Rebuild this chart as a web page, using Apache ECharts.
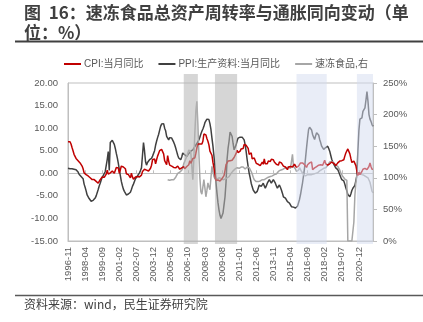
<!DOCTYPE html>
<html><head><meta charset="utf-8">
<script src="https://cdn.jsdelivr.net/npm/echarts@6/dist/echarts.min.js"></script>
<style>html,body{margin:0;padding:0;background:#fff}#c{width:423px;height:322px}</style>
</head><body><div id="c"></div>
<script>
// ---- categories (monthly, 1996-11 .. 2022-02) ----
const startYear = 1996, startMonth = 11, monthCount = 304;
const categories = [];
for (let k = 0; k < monthCount; k++) {
  const m = startMonth - 1 + k;
  const y = startYear + Math.floor(m / 12);
  const mm = m % 12 + 1;
  categories.push(y + '-' + (mm < 10 ? '0' : '') + mm);
}

// ---- CPI: 当月同比 (%) ----
const cpi = [
  7.0, 7.2,
  7.0, 6.5, 5.7, 5.0, 4.2, 3.8, 3.3, 3.1, 2.8, 2.5, 2.3, 2.0,
  1.6, 1.0, 0.1, 0.3, -0.3, -0.5, -0.6, -0.9, -1.0, -1.2, -1.4, -1.3,
  -1.4, -1.7, -1.8, -2.1, -2.2, -2.1, -1.4, -1.3, -0.8, -0.6, -0.9, -1.0,
  -0.2, 0.7, -0.2, -0.3, 0.1, 0.5, 0.5, 0.3, 0.0, 0.0, 1.3, 1.5,
  1.2, 0.0, 0.8, 1.6, 1.7, 1.4, 1.5, 1.0, -0.1, 0.2, -0.3, -0.3,
  -1.0, 0.0, -0.8, -1.3, -1.1, -0.8, -0.9, -0.7, -0.7, -0.8, -0.7, -0.4,
  0.4, 0.2, 0.9, 1.0, 0.7, 0.3, 0.5, 0.9, 1.1, 1.8, 3.0, 3.2,
  3.2, 2.1, 3.0, 3.8, 4.4, 5.0, 5.3, 5.3, 5.2, 4.3, 2.8, 2.4,
  1.9, 3.9, 2.7, 1.8, 1.8, 1.6, 1.8, 1.3, 0.9, 1.2, 1.3, 1.6,
  1.9, 0.9, 0.8, 1.2, 1.4, 1.5, 1.0, 1.3, 1.5, 1.4, 1.9, 2.8,
  2.2, 2.7, 3.3, 3.0, 3.4, 4.4, 5.6, 6.5, 6.2, 6.5, 6.9, 6.5,
  7.1, 8.7, 8.3, 8.5, 7.7, 7.1, 6.3, 4.9, 4.6, 4.0, 2.4, 1.2,
  1.0, -1.6, -1.2, -1.5, -1.4, -1.7, -1.8, -1.2, -0.8, -0.5, 0.6, 1.9,
  1.5, 2.7, 2.4, 2.8, 3.1, 2.9, 3.3, 3.5, 3.6, 4.4, 5.1, 4.6,
  4.9, 4.9, 5.4, 5.3, 5.5, 6.4, 6.5, 6.2, 6.1, 5.5, 4.2, 4.1,
  4.5, 3.2, 3.6, 3.4, 3.0, 2.2, 1.8, 2.0, 1.9, 1.7, 2.0, 2.5,
  2.0, 3.2, 2.1, 2.4, 2.1, 2.7, 2.7, 2.6, 3.1, 3.2, 3.0, 2.5,
  2.5, 2.0, 2.4, 1.8, 2.5, 2.3, 2.3, 2.0, 1.6, 1.6, 1.4, 1.5,
  0.8, 1.4, 1.4, 1.5, 1.2, 1.4, 1.6, 2.0, 1.6, 1.3, 1.5, 1.6,
  1.8, 2.3, 2.3, 2.3, 2.0, 1.9, 1.8, 1.3, 1.9, 2.1, 2.3, 2.1,
  2.5, 0.8, 0.9, 1.2, 1.5, 1.5, 1.4, 1.8, 1.6, 1.9, 1.7, 1.8,
  1.5, 2.9, 2.1, 1.8, 1.8, 1.9, 2.1, 2.3, 2.5, 2.5, 2.2, 1.9,
  1.7, 1.5, 2.3, 2.5, 2.7, 2.7, 2.8, 2.8, 3.0, 3.8, 4.5, 4.5,
  5.4, 5.2, 4.3, 3.3, 2.4, 2.5, 2.7, 2.4, 1.7, 0.5, -0.5, 0.2,
  -0.3, -0.2, 0.4, 0.9, 1.3, 1.1, 1.0, 0.8, 0.7, 1.5, 2.3, 1.5,
  0.9, 0.9
];

// ---- PPI: 生产资料: 当月同比 (%) ----
const ppi = [
  1.1, 1.0,
  1.0, 0.9, 1.0, 0.8, 0.9, 0.7, 0.8, 0.6, 0.3, -0.2, -0.6, -0.7,
  -0.8, -1.2, -2.4, -3.1, -3.9, -4.8, -5.2, -5.6, -5.9, -6.2, -6.1, -6.0,
  -5.9, -5.5, -5.0, -4.6, -3.6, -2.8, -2.2, -1.5, -0.9, -0.5, -0.1, 0.4,
  0.8, 3.1, 4.8, 0.6, 6.8, 7.2, 7.3, 7.0, 6.4, 5.5, 4.4, 3.4,
  2.2, 0.8, -0.5, -1.8, -2.7, -3.5, -4.0, -4.4, -4.8, -4.9, -4.6, -4.4,
  -4.2, -3.6, -2.9, -2.4, -1.8, -1.2, -1.0, -0.6, -0.2, 0.1, 0.6, 1.2,
  4.0, 6.8, 5.0, 2.6, 1.8, 2.4, 2.8, 3.0, 2.9, 3.3, 3.8, 4.1,
  5.0, 6.2, 7.1, 7.9, 8.6, 9.5, 10.4, 10.9, 11.2, 11.0, 10.0, 9.4,
  8.2, 7.8, 7.4, 7.9, 8.2, 7.8, 7.4, 6.9, 6.3, 5.6, 4.8, 4.0,
  3.4, 3.1, 3.0, 3.6, 4.5, 4.7, 4.1, 3.9, 3.7, 3.9, 4.4, 4.8,
  4.9, 5.0, 5.2, 5.6, 5.9, 6.3, 6.6, 7.0, 7.4, 8.0, 8.7, 9.3,
  9.8, 10.4, 11.2, 11.6, 12.0, 12.1, 11.9, 11.0, 9.7, 7.8, 6.0, 3.8,
  1.5, -2.0, -4.4, -6.5, -8.1, -9.3, -10.0, -9.6, -8.8, -7.0, -5.2, -2.0,
  3.0, 5.5, 7.1, 9.1, 8.7, 8.2, 6.6, 5.2, 5.6, 6.3, 7.2, 7.8,
  8.2, 8.0, 7.8, 8.0, 8.2, 7.4, 6.3, 4.8, 3.0, 1.4, 0.0, -1.0,
  -2.2, -3.0, -3.7, -4.1, -4.4, -4.2, -4.0, -3.3, -2.6, -2.7, -2.9, -2.6,
  -2.2, -2.8, -3.3, -2.8, -2.2, -1.8, -1.4, -1.8, -2.2, -1.8, -1.4, -1.8,
  -2.2, -2.8, -3.3, -2.9, -2.6, -3.1, -3.7, -4.4, -5.2, -5.4, -5.5, -5.9,
  -6.3, -6.5, -6.6, -7.0, -7.4, -7.5, -7.5, -7.6, -7.7, -7.6, -7.3, -6.9,
  -5.8, -4.7, -3.4, -2.1, -0.5, 1.2, 3.4, 5.7, 7.8, 9.7, 10.2, 10.5,
  9.6, 8.6, 8.0, 7.5, 8.3, 9.0, 9.4, 8.5, 7.5, 6.8, 6.0, 5.6,
  5.3, 5.5, 5.7, 5.9, 6.0, 5.5, 4.9, 4.0, 3.1, 2.5, 2.0, 1.6,
  1.2, 1.0, 0.8, 0.3, -0.3, -0.9, -1.4, -1.5, -1.7, -2.4, -3.2, -3.9,
  -4.7, -5.0, -5.2, -4.6, -3.8, -3.3, -2.9, -2.7, -2.6, -0.5, 5.0, 9.5,
  12.0, 11.6, 12.3, 13.7, 13.3, 14.5, 16.2, 18.1, 16.0, 13.0, 12.0, 11.5,
  10.8, 10.4
];

// ---- 速冻食品 (right axis, %), starts 2005-02 ----
const frozenStart = '2005-02';
const frozen = [
  97, 97, 96, 97, 97, 98, 97, 98, 101, 104, 107,
  108, 109, 110, 112, 116, 122, 126, 130, 134, 139, 144, 147,
  140, 118, 97, 130, 170, 205, 221, 185, 140, 100, 78, 74,
  72, 97, 84, 70, 80, 92, 86, 81, 100, 118, 110, 102,
  98, 97, 98, 99, 100, 100, 99, 98, 97, 97, 98, 100,
  100, 101, 102, 104, 107, 109, 111, 113, 114, 115, 116, 115,
  115, 116, 117, 118, 117, 115, 114, 115, 117, 118, 116, 113,
  110, 106, 101, 97, 94, 94, 93, 94, 94, 95, 96, 97,
  97, 97, 98, 99, 100, 101, 101, 102, 102, 103, 104, 105,
  105, 106, 108, 110, 111, 112, 113, 113, 114, 115, 116, 116,
  116, 117, 116, 115, 116, 137, 118, 116, 114, 110, 108, 112,
  116, 113, 110, 107, 105, 104, 103, 104, 105, 104, 105, 106,
  105, 104, 106, 105, 107, 106, 108, 110, 111, 113, 113, 114,
  115, 116, 116, 118, 120, 122, 125, 128, 126, 125, 124, 122,
  120, 119, 118, 116, 112, 108, 105, 102, 100, 98, 97, 96,
  0, 0, 0, 0, 0, 0, 30, 72, 92, 104, 108, 110,
  108, 106, 105, 104, 104, 103, 102, 102, 100, 97, 93, 86,
  79, 76
];

// ---- shaded periods ----
const grayBands = [['2006-06', '2007-08'], ['2009-01', '2010-11']];
const blueBands = [['2015-10', '2018-04'], ['2020-10', '2022-02']];

const seriesNames = ['CPI:当月同比', 'PPI:生产资料:当月同比', '速冻食品,右'];
const leftTicks = { min: -15, max: 20, interval: 5 };
const rightTicks = { min: 0, max: 250, interval: 50 };

const frozenOffset = categories.indexOf(frozenStart);
const frozenData = frozen.map((v, k) => [categories[frozenOffset + k], v]);

const txt = '#595959';
const axisCol = '#bfbfbf';
const numFont = "'Liberation Sans','Noto Sans CJK SC',sans-serif";

const bandData = [];
grayBands.forEach(b => bandData.push([{ xAxis: b[0], itemStyle: { color: '#b4b4b4', opacity: 0.55 } }, { xAxis: b[1] }]));
blueBands.forEach(b => bandData.push([{ xAxis: b[0], itemStyle: { color: '#d4dcef', opacity: 0.5 } }, { xAxis: b[1] }]));

const chart = echarts.init(document.getElementById('c'), null, { renderer: 'canvas' });
chart.setOption({
  animation: false,
  backgroundColor: '#ffffff',
  textStyle: { fontFamily: numFont },
  grid: [
    { left: 68, top: 83, width: 305, height: 158, show: true, borderColor: axisCol, borderWidth: 1, backgroundColor: 'transparent' },
    { left: 68, top: 74, width: 305, height: 170 }
  ],
  legend: {
    data: seriesNames,
    left: 59, top: 54,
    icon: 'rect', itemWidth: 17, itemHeight: 2, itemGap: 15,
    textStyle: { fontSize: 10, color: txt, fontFamily: numFont, padding: [0, 0, 0, -2] }
  },
  xAxis: [
    {
      type: 'category', data: categories, gridIndex: 0, boundaryGap: false, position: 'bottom',
      axisLine: { onZero: false, lineStyle: { color: axisCol } },
      axisTick: { show: false },
      axisLabel: { rotate: 90, interval: 16, fontSize: 9.5, color: txt, margin: 6, fontFamily: numFont },
      splitLine: { show: false }
    },
    {
      type: 'category', data: categories, gridIndex: 0, boundaryGap: false, position: 'top',
      axisLine: { onZero: true, onZeroAxisIndex: 0, lineStyle: { color: axisCol } },
      axisTick: { show: true, interval: 16, inside: false, length: 3, lineStyle: { color: axisCol } },
      axisLabel: { show: false },
      splitLine: { show: false }
    },
    { type: 'category', data: categories, gridIndex: 1, boundaryGap: false, show: false }
  ],
  yAxis: [
    {
      type: 'value', gridIndex: 0, position: 'left',
      min: leftTicks.min, max: leftTicks.max, interval: leftTicks.interval,
      axisLine: { show: true, lineStyle: { color: axisCol } },
      axisTick: { show: false },
      splitLine: { show: false },
      axisLabel: { formatter: v => v.toFixed(2), fontSize: 9.5, color: txt, margin: 10, fontFamily: numFont }
    },
    {
      type: 'value', gridIndex: 0, position: 'right',
      min: rightTicks.min, max: rightTicks.max, interval: rightTicks.interval,
      axisLine: { show: true, lineStyle: { color: axisCol } },
      axisTick: { show: true, length: 4, lineStyle: { color: axisCol } },
      splitLine: { show: false },
      axisLabel: { formatter: '{value}%', fontSize: 9.5, color: txt, margin: 10, fontFamily: numFont }
    },
    { type: 'value', gridIndex: 1, min: 0, max: 1, show: false }
  ],
  series: [
    {
      name: seriesNames[0], type: 'line', data: cpi, xAxisIndex: 0, yAxisIndex: 0,
      symbol: 'none', lineStyle: { color: '#c00000', width: 1.5 }, itemStyle: { color: '#c00000' }, z: 3
    },
    {
      name: seriesNames[1], type: 'line', data: ppi, xAxisIndex: 0, yAxisIndex: 0,
      symbol: 'none', lineStyle: { color: '#404040', width: 1.5 }, itemStyle: { color: '#404040' }, z: 2
    },
    {
      name: seriesNames[2], type: 'line', data: frozenData, xAxisIndex: 0, yAxisIndex: 1,
      symbol: 'none', lineStyle: { color: '#a6a6a6', width: 1.5 }, itemStyle: { color: '#a6a6a6' }, z: 2
    },
    {
      name: 'bands', type: 'line', data: [], xAxisIndex: 2, yAxisIndex: 2, z: 10,
      markArea: { silent: true, z: 10, data: bandData }
    }
  ],
  graphic: [
    {
      type: 'text', x: 24, y: 3, z: 100,
      style: {
        text: '图  16：速冻食品总资产周转率与通胀同向变动（单\n位：%）',
        font: "bold 17px 'Noto Sans CJK SC', sans-serif", fill: '#404040', lineHeight: 20
      }
    },
    { type: 'line', z: 100, shape: { x1: 15, y1: 41.5, x2: 423, y2: 41.5 }, style: { stroke: '#404040', lineWidth: 2 } },
    { type: 'line', z: 100, shape: { x1: 15, y1: 295.5, x2: 423, y2: 295.5 }, style: { stroke: '#595959', lineWidth: 1.5 } },
    {
      type: 'text', x: 24, y: 298, z: 100,
      style: { text: '资料来源：wind，民生证券研究院', font: "12px 'Noto Sans CJK SC', sans-serif", fill: '#404040' }
    }
  ]
});
</script>
</body></html>
